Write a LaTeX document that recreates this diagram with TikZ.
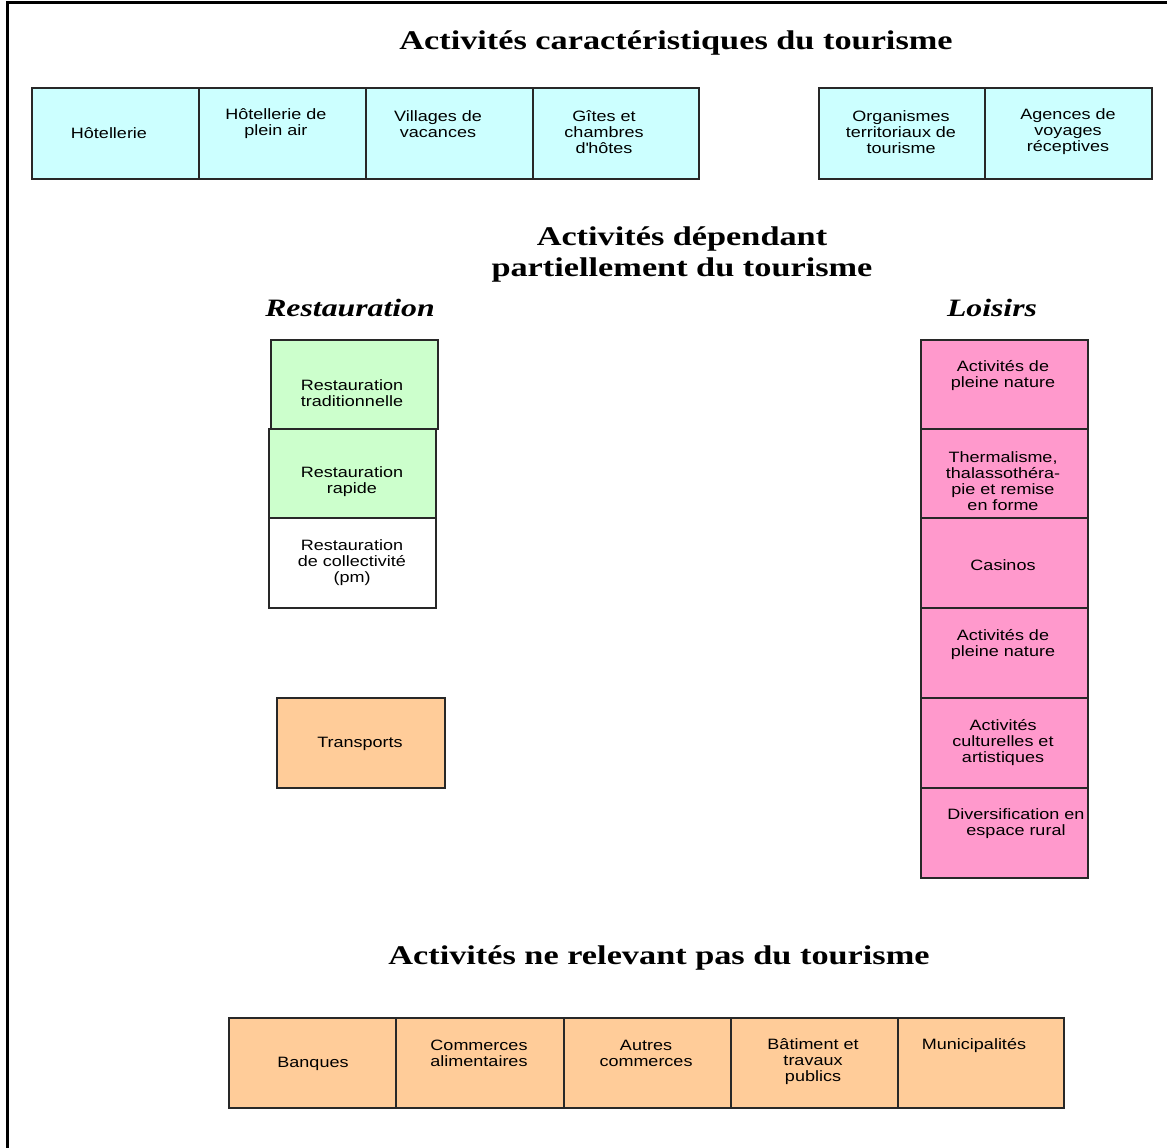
\documentclass[tikz,border=0pt]{standalone}
\usepackage{fontspec}
\setmainfont{Liberation Sans}[FakeStretch=1.2]
\newfontfamily\titlefont{Liberation Serif}[FakeStretch=1.27]
\definecolor{cyanbox}{RGB}{204,255,255}
\definecolor{greenbox}{RGB}{204,255,204}
\definecolor{pinkbox}{RGB}{255,153,204}
\definecolor{orangebox}{RGB}{255,204,153}
\definecolor{edgecol}{RGB}{40,40,40}
\tikzset{
  cell/.style={draw=edgecol, line width=1.5pt, anchor=north west, inner sep=0pt, outer sep=0pt, minimum height=#1},
  cell/.default=90pt,
  cyanc/.style={cell=91pt, fill=cyanbox},
  greenc/.style={cell=89pt, fill=greenbox},
  pinkc/.style={cell, fill=pinkbox, minimum width=167pt},
  orangec/.style={cell, fill=orangebox},
  whitec/.style={cell, fill=white},
  txt/.style={font=\fontsize{15}{16}\selectfont, align=center, inner sep=0pt, text=black, yshift=-2pt},
  ttl/.style={font=\titlefont\bfseries\fontsize{27}{31}\selectfont, align=center, inner sep=0pt, text=black, yshift=-3pt},
  subttl/.style={font=\titlefont\bfseries\itshape\fontsize{25}{30}\selectfont, inner sep=0pt, text=black, yshift=-1pt},
}
\begin{document}
\begin{tikzpicture}[x=1pt,y=-1pt]
\useasboundingbox (0,0) rectangle (1167,1148);
% frame
\draw[line width=3pt, black] (7.5,1148) |- (1167,3);

% titles
\node[ttl] (t1) at (676,40) {Activités caractéristiques du tourisme};
\node[ttl] (t2) at (682,251.5) {Activités dépendant\\partiellement du tourisme};
\node[subttl] (t2a) at (350,307) {Restauration};
\node[subttl] (t2b) at (992,307) {Loisirs};
\node[ttl] (t3) at (659,955) {Activités ne relevant pas du tourisme};

% top row
\node[cyanc, minimum width=167pt] (a1) at (32,88) {};
\node[cyanc, minimum width=167pt] (a2) at (199,88) {};
\node[cyanc, minimum width=167pt] (a3) at (366,88) {};
\node[cyanc, minimum width=166pt] (a4) at (533,88) {};
\node[cyanc, minimum width=166pt] (a5) at (819,88) {};
\node[cyanc, minimum width=167pt] (a6) at (985,88) {};
\node[txt] (a1t) at (109,131) {Hôtellerie};
\node[txt] (a2t) at (276,122) {Hôtellerie de\\plein air};
\node[txt] (a3t) at (438,122) {Villages de\\vacances};
\node[txt] (a4t) at (604,130) {Gîtes et\\chambres\\d\textquotesingle hôtes};
\node[txt] (a5t) at (901,130) {Organismes\\territoriaux de\\tourisme};
\node[txt] (a6t) at (1068,130) {Agences de\\voyages\\réceptives};

% restauration
\node[greenc, minimum width=167pt] (r1) at (271,340) {};
\node[greenc, minimum width=167pt] (r2) at (269,429) {};
\node[whitec, minimum width=167pt] (r3) at (269,518) {};
\node[txt] (r1t) at (352,391) {Restauration\\traditionnelle};
\node[txt] (r2t) at (352,480) {Restauration\\rapide};
\node[txt] (r3t) at (352,560.5) {Restauration\\de collectivité\\(pm)};

% transports
\node[orangec, minimum width=168pt] (tr) at (277,698) {};
\node[txt] (trt) at (360,742) {Transports};

% loisirs
\node[pinkc, minimum height=89pt] (l1) at (921,340) {};
\node[pinkc, minimum height=89pt] (l2) at (921,429) {};
\node[pinkc] (l3) at (921,518) {};
\node[pinkc] (l4) at (921,608) {};
\node[pinkc] (l5) at (921,698) {};
\node[pinkc] (l6) at (921,788) {};
\node[txt] (l1t) at (1003,373.5) {Activités de\\pleine nature};
\node[txt] (l2t) at (1003,479) {Thermalisme,\\thalassothéra-\\pie et remise\\en forme};
\node[txt] (l3t) at (1003,563) {Casinos};
\node[txt] (l4t) at (1003,642.5) {Activités de\\pleine nature};
\node[txt] (l5t) at (1003,740.5) {Activités\\culturelles et\\artistiques};
\node[txt] (l6t) at (1016,822) {Diversification en\\espace rural};

% bottom row
\node[orangec, minimum width=167pt] (b1) at (229,1018) {};
\node[orangec, minimum width=168pt] (b2) at (396,1018) {};
\node[orangec, minimum width=167pt] (b3) at (564,1018) {};
\node[orangec, minimum width=167pt] (b4) at (731,1018) {};
\node[orangec, minimum width=166pt] (b5) at (898,1018) {};
\node[txt] (b1t) at (313,1062) {Banques};
\node[txt] (b2t) at (479,1051.5) {Commerces\\alimentaires};
\node[txt] (b3t) at (646,1051.5) {Autres\\commerces};
\node[txt] (b4t) at (813,1060) {Bâtiment et\\travaux\\publics};
\node[txt] (b5t) at (974,1044) {Municipalités};
\end{tikzpicture}
\end{document}
